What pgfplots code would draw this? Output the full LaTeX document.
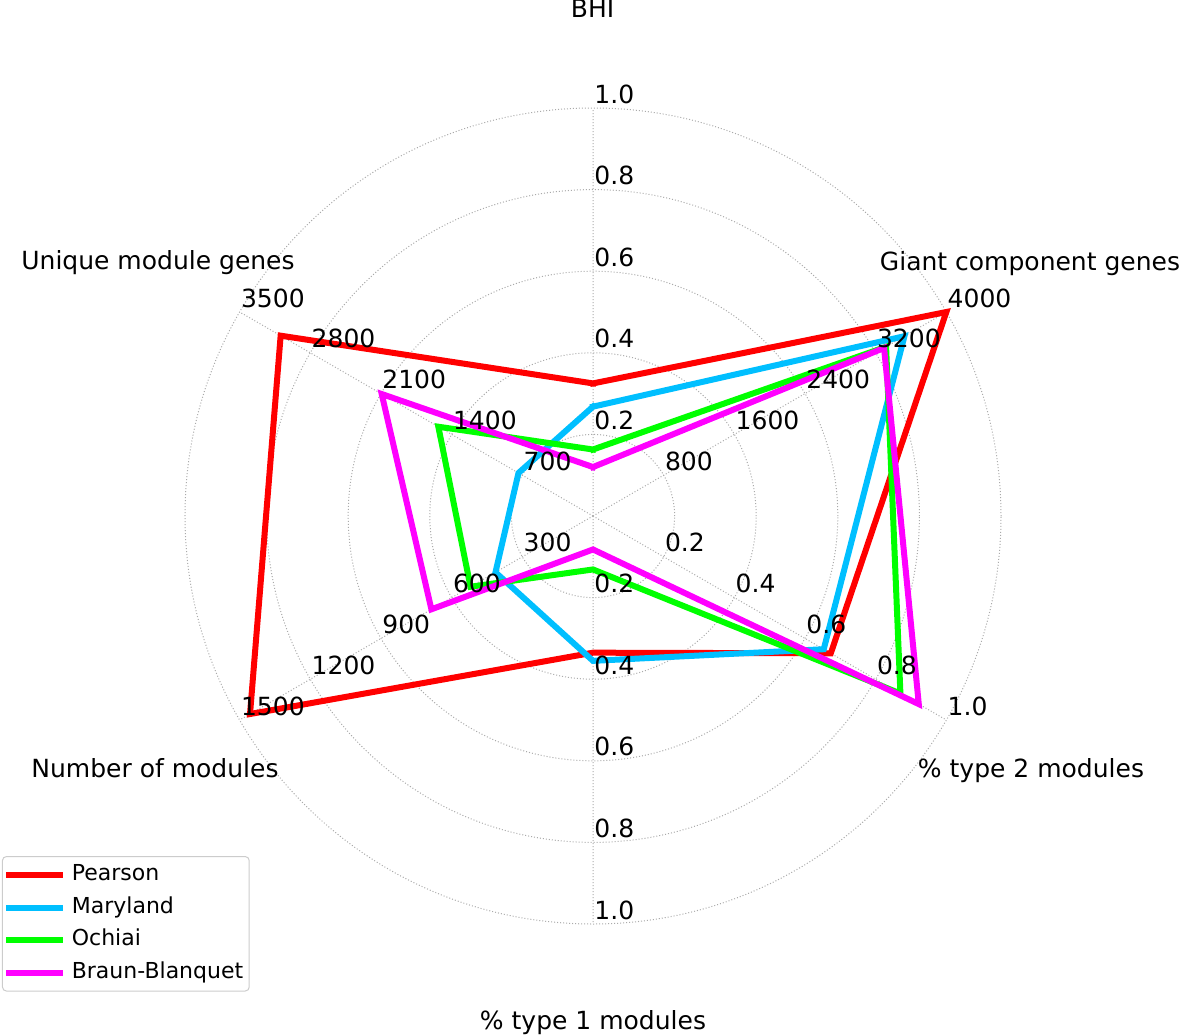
\documentclass[border=0pt]{standalone}
\usepackage{fontspec}
\setmainfont{DejaVu Sans}
\usepackage{pgfplots}
\usepackage{pgfplotstable}
\pgfplotsset{compat=1.18}
\usepgfplotslibrary{polar}

\definecolor{cpearson}{RGB}{255,0,0}
\definecolor{cmaryland}{RGB}{0,191,255}
\definecolor{cochiai}{RGB}{0,255,0}
\definecolor{cbraun}{RGB}{255,0,255}
\definecolor{gridgray}{RGB}{170,170,170}

% angle (deg), raw value, scale maximum of that spoke
\pgfplotstableread{
ang max  val
90  1    0.325
30  4000 4000
330 1    0.673
270 1    0.335
210 1500 1456
150 3500 3094
90  1    0.325
}\pearson
\pgfplotstableread{
ang max  val
90  1    0.268
30  4000 3526
330 1    0.653
270 1    0.355
210 1500 414
150 3500 738
90  1    0.268
}\maryland
\pgfplotstableread{
ang max  val
90  1    0.163
30  4000 3318
330 1    0.870
270 1    0.131
210 1500 520
150 3500 1532
90  1    0.163
}\ochiai
\pgfplotstableread{
ang max  val
90  1    0.120
30  4000 3295
330 1    0.922
270 1    0.082
210 1500 686
150 3500 2093
90  1    0.120
}\braun

\begin{document}
\begin{tikzpicture}[x=0.5pt, y=0.5pt, font=\fontsize{12.5}{15}\selectfont]
  \useasboundingbox (0,0) rectangle (1181,1035);

  \begin{polaraxis}[
      at={(296.5pt,259.5pt)}, anchor=center,
      scale only axis, width=408pt, height=408pt,
      xmin=0, xmax=360, ymin=0, ymax=1,
      xtick={30,90,150,210,270,330},
      ytick={0.2,0.4,0.6,0.8,1},
      xticklabels={}, yticklabels={},
      grid=major,
      major grid style={gridgray, line width=0.5pt, dash pattern=on 0.5pt off 1pt},
      axis line style={draw=none},
      major tick length=0pt,
      clip=false,
      legend style={at={(-0.2243,0.0833)}, anchor=north west,
        draw=black!20, line width=0.5pt, rounded corners=2pt, fill=white,
        font=\fontsize{11}{13}\selectfont,
        inner xsep=2pt, inner ysep=3pt, row sep=3.75pt,
        nodes={inner sep=1pt, text height=8pt, text depth=2.5pt},
        /tikz/every odd column/.append style={column sep=3.2pt},
        /tikz/every even column/.append style={column sep=0pt}},
      legend cell align=left,
      legend image code/.code={\draw[#1, line width=3pt] (0pt,0pt) -- (25.5pt,0pt);},
    ]

    \addplot[cpearson, line width=3pt, line join=miter, line cap=rect]
      table[x=ang, y expr=\thisrow{val}/\thisrow{max}] {\pearson};
    \addlegendentry{Pearson}
    \addplot[cmaryland, line width=3pt, line join=miter, line cap=rect]
      table[x=ang, y expr=\thisrow{val}/\thisrow{max}] {\maryland};
    \addlegendentry{Maryland}
    \addplot[cochiai, line width=3pt, line join=miter, line cap=rect]
      table[x=ang, y expr=\thisrow{val}/\thisrow{max}] {\ochiai};
    \addlegendentry{Ochiai}
    \addplot[cbraun, line width=3pt, line join=miter, line cap=rect]
      table[x=ang, y expr=\thisrow{val}/\thisrow{max}] {\braun};
    \addlegendentry{Braun-Blanquet}

    % per-spoke tick labels
    \tikzset{tl/.style={anchor=base west, inner sep=0pt, xshift=0.5pt, yshift=2.5pt}}
    \node[tl] at (axis cs:90,0.2) {0.2};  \node[tl] at (axis cs:90,0.4) {0.4};
    \node[tl] at (axis cs:90,0.6) {0.6};  \node[tl] at (axis cs:90,0.8) {0.8};
    \node[tl] at (axis cs:90,1) {1.0};
    \node[tl] at (axis cs:30,0.2) {800};  \node[tl] at (axis cs:30,0.4) {1600};
    \node[tl] at (axis cs:30,0.6) {2400}; \node[tl] at (axis cs:30,0.8) {3200};
    \node[tl] at (axis cs:30,1) {4000};
    \node[tl] at (axis cs:330,0.2) {0.2}; \node[tl] at (axis cs:330,0.4) {0.4};
    \node[tl] at (axis cs:330,0.6) {0.6}; \node[tl] at (axis cs:330,0.8) {0.8};
    \node[tl] at (axis cs:330,1) {1.0};
    \node[tl] at (axis cs:270,0.2) {0.2}; \node[tl] at (axis cs:270,0.4) {0.4};
    \node[tl] at (axis cs:270,0.6) {0.6}; \node[tl] at (axis cs:270,0.8) {0.8};
    \node[tl] at (axis cs:270,1) {1.0};
    \node[tl] at (axis cs:210,0.2) {300}; \node[tl] at (axis cs:210,0.4) {600};
    \node[tl] at (axis cs:210,0.6) {900}; \node[tl] at (axis cs:210,0.8) {1200};
    \node[tl] at (axis cs:210,1) {1500};
    \node[tl] at (axis cs:150,0.2) {700}; \node[tl] at (axis cs:150,0.4) {1400};
    \node[tl] at (axis cs:150,0.6) {2100}; \node[tl] at (axis cs:150,0.8) {2800};
    \node[tl] at (axis cs:150,1) {3500};
  \end{polaraxis}

  % spoke titles
  \node[anchor=base, inner sep=0pt] at (592.5,1017) {BHI};
  \node[anchor=base, inner sep=0pt] at (1030,764) {Giant component genes};
  \node[anchor=base, inner sep=0pt] at (158,765) {Unique module genes};
  \node[anchor=base, inner sep=0pt] at (1031,258) {\% type 2 modules};
  \node[anchor=base, inner sep=0pt] at (155,258) {Number of modules};
  \node[anchor=base, inner sep=0pt] at (593,6) {\% type 1 modules};
\end{tikzpicture}
\end{document}
